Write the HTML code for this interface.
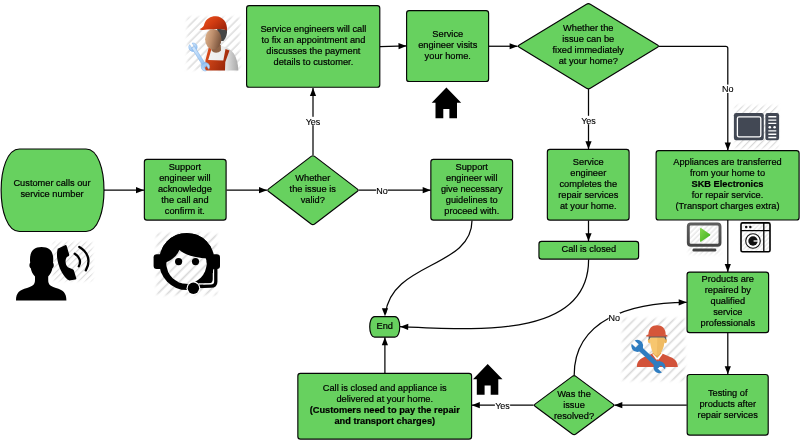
<!DOCTYPE html>
<html><head><meta charset="utf-8"><title>Service flow</title>
<style>
html,body{margin:0;padding:0;background:#fff;}
body{width:800px;height:440px;overflow:hidden;}
svg{display:block;font-family:"Liberation Sans",Arial,sans-serif;will-change:transform;}
.sh > *{fill:#67d15f;stroke:#050505;stroke-width:1.15;stroke-linejoin:round;}
.ln > path{fill:none;stroke:#050505;stroke-width:1.25;}
.ln > path.ah{fill:#000;stroke:none;}
.tx text{font-size:9.25px;text-anchor:middle;fill:#000;stroke:#000;stroke-width:0.2px;}
text.lb{font-size:9.0px;text-anchor:middle;fill:#000;stroke:#000;stroke-width:0.12px;}
</style></head><body>
<svg width="800" height="440" viewBox="0 0 800 440">
<defs>
<pattern id="hatch" width="4.8" height="4.8" patternUnits="userSpaceOnUse" patternTransform="rotate(45)">
<rect x="0" y="0" width="1.15" height="4.8" fill="#dadada"/>
</pattern>
</defs>
<rect width="800" height="440" fill="#fff"/>
<g class="ic">
<defs>
<linearGradient id="hatg" x1="0" y1="0" x2="1" y2="0.6">
<stop offset="0" stop-color="#ee5a24"/><stop offset="0.55" stop-color="#d23c12"/><stop offset="1" stop-color="#a4260a"/>
</linearGradient>
<linearGradient id="faceg" x1="0" y1="0" x2="1" y2="0.3">
<stop offset="0" stop-color="#e2b892"/><stop offset="0.5" stop-color="#bd8e6c"/><stop offset="1" stop-color="#7e5840"/>
</linearGradient>
<linearGradient id="shirtg" x1="0" y1="0" x2="1" y2="0">
<stop offset="0" stop-color="#f4f4f4"/><stop offset="0.6" stop-color="#ececec"/><stop offset="1" stop-color="#a8a8a8"/>
</linearGradient>
<linearGradient id="bibg" x1="0" y1="0" x2="1" y2="0.5">
<stop offset="0" stop-color="#e6521e"/><stop offset="1" stop-color="#9c280a"/>
</linearGradient>
<linearGradient id="wrg" x1="0" y1="0" x2="1" y2="0">
<stop offset="0" stop-color="#d4e8fc"/><stop offset="1" stop-color="#8cbcf0"/>
</linearGradient>
<linearGradient id="playg" x1="0" y1="0" x2="1" y2="1">
<stop offset="0" stop-color="#84d84e"/><stop offset="1" stop-color="#3fae1c"/>
</linearGradient>
<linearGradient id="tvg" x1="0" y1="0" x2="0" y2="1">
<stop offset="0" stop-color="#5e5e5e"/><stop offset="1" stop-color="#474747"/>
</linearGradient>
<filter id="soft" x="-20%" y="-20%" width="140%" height="140%"><feGaussianBlur stdDeviation="1.4"/></filter>
<filter id="soft2" x="-5%" y="-5%" width="110%" height="110%"><feGaussianBlur stdDeviation="0.45"/></filter>
<pattern id="h1" x="0" y="0" width="4.501" height="4.501" patternUnits="userSpaceOnUse" patternTransform="translate(52,241) rotate(45)"><rect x="1.813" y="0" width="1.080" height="4.501" fill="#d9d9d9"/></pattern>
<mask id="mh1" maskUnits="userSpaceOnUse" x="46" y="235" width="53.6" height="53"><rect filter="url(#soft)" fill="#fff" x="53" y="242" width="39.6" height="39"/></mask>
<pattern id="h2" x="0" y="0" width="6.924" height="6.924" patternUnits="userSpaceOnUse" patternTransform="translate(155.5,232) rotate(45)"><rect x="2.790" y="0" width="1.662" height="6.924" fill="#d9d9d9"/></pattern>
<mask id="mh2" maskUnits="userSpaceOnUse" x="149.5" y="226" width="74.5" height="76"><rect filter="url(#soft)" fill="#fff" x="156.5" y="233" width="60.5" height="62"/></mask>
<pattern id="h3" x="0" y="0" width="4.868" height="4.868" patternUnits="userSpaceOnUse" patternTransform="translate(734,104.5) rotate(45)"><rect x="1.961" y="0" width="1.168" height="4.868" fill="#d9d9d9"/></pattern>
<mask id="mh3" maskUnits="userSpaceOnUse" x="728" y="98.5" width="57" height="57"><rect filter="url(#soft)" fill="#fff" x="735" y="105.5" width="43" height="43"/></mask>
<pattern id="h4" x="0" y="0" width="3.678" height="3.678" patternUnits="userSpaceOnUse" patternTransform="translate(687.5,222.5) rotate(45)"><rect x="1.482" y="0" width="0.883" height="3.678" fill="#d9d9d9"/></pattern>
<mask id="mh4" maskUnits="userSpaceOnUse" x="681.5" y="216.5" width="46" height="45"><rect filter="url(#soft)" fill="#fff" x="688.5" y="223.5" width="32" height="31"/></mask>
<pattern id="h5" x="0" y="0" width="3.246" height="3.246" patternUnits="userSpaceOnUse" patternTransform="translate(740.6,222.2) rotate(45)"><rect x="1.308" y="0" width="0.779" height="3.246" fill="#d9d9d9"/></pattern>
<mask id="mh5" maskUnits="userSpaceOnUse" x="734.6" y="216.2" width="42" height="42"><rect filter="url(#soft)" fill="#fff" x="741.6" y="223.2" width="28" height="28"/></mask>
<pattern id="h6" x="0" y="0" width="5.950" height="5.950" patternUnits="userSpaceOnUse" patternTransform="translate(186,16) rotate(45)"><rect x="2.397" y="0" width="1.428" height="5.950" fill="#d9d9d9"/></pattern>
<mask id="mh6" maskUnits="userSpaceOnUse" x="180" y="10" width="67" height="67"><rect filter="url(#soft)" fill="#fff" x="187" y="17" width="53" height="53"/></mask>
<pattern id="h7" x="0" y="0" width="6.978" height="6.978" patternUnits="userSpaceOnUse" patternTransform="translate(621.5,317.3) rotate(45)"><rect x="2.811" y="0" width="1.675" height="6.978" fill="#d9d9d9"/></pattern>
<mask id="mh7" maskUnits="userSpaceOnUse" x="615.5" y="311.3" width="76.5" height="76.5"><rect filter="url(#soft)" fill="#fff" x="622.5" y="318.3" width="62.5" height="62.5"/></mask>
</defs>
<g mask="url(#mh1)"><rect filter="url(#soft2)" x="50" y="239" width="45.6" height="45" fill="url(#h1)"/></g>
<g mask="url(#mh2)"><rect filter="url(#soft2)" x="153.5" y="230" width="66.5" height="68" fill="url(#h2)"/></g>
<g mask="url(#mh3)"><rect filter="url(#soft2)" x="732" y="102.5" width="49" height="49" fill="url(#h3)"/></g>
<g mask="url(#mh4)"><rect filter="url(#soft2)" x="685.5" y="220.5" width="38" height="37" fill="url(#h4)"/></g>
<g mask="url(#mh5)"><rect filter="url(#soft2)" x="738.6" y="220.2" width="34" height="34" fill="url(#h5)"/></g>
<g mask="url(#mh6)"><rect filter="url(#soft2)" x="184" y="14" width="59" height="59" fill="url(#h6)"/></g>
<g mask="url(#mh7)"><rect filter="url(#soft2)" x="619.5" y="315.3" width="68.5" height="68.5" fill="url(#h7)"/></g>


<!-- icon: caller -->
<path fill="#000" d="M16,300.5 C16,292.5 19.5,290.3 27,288 C33,286 35,284.5 35,280 L35,276.5 C32.5,274 31.2,271 30.8,268.3 C29.2,267.5 29,264 30.2,262.8 C29,252.5 33,247 41.5,247 C50.5,247 54.3,252.5 53,262.8 C54.2,264 54,267.5 52.4,268.3 C52,271 50.6,274 48.2,276.5 L48.2,280 C48.2,284.5 50,286 56,288 C63,290.3 66.4,292.5 66.4,300.5 Z"/>
<path fill="#000" d="M57.7,248.7 L65,245.2 Q66.3,244.8 66.7,246 L69.2,254.6 Q69.4,255.6 68.4,256.2 L66.9,257.1 C65,259.6 65,264.8 67.9,267.3 L72.6,269.2 Q73.6,269.6 73.9,270.6 L76.3,278.2 Q76.5,279.2 75.4,279.5 L69.5,280.4 Q68.4,280.4 67.5,279.6 C62.5,275.4 58,266.5 57.1,257.6 C56.8,254 57,251 57.7,248.7 Z"/>
<path fill="none" stroke="#000" stroke-width="2.3" stroke-linecap="round" d="M74.7,253.8 C79.6,256.6 81.4,261.6 78.8,266.3"/>
<path fill="none" stroke="#000" stroke-width="2.3" stroke-linecap="round" d="M79.3,246.9 C87.8,251.6 91.3,261 85.8,270.3"/>

<!-- icon: headset agent -->
<rect x="153.6" y="254.2" width="9" height="14.8" rx="3" fill="#000"/>
<rect x="211" y="254.2" width="9" height="14.8" rx="3" fill="#000"/>
<ellipse cx="186.8" cy="261.5" rx="27.8" ry="28.6" fill="#000"/>
<circle cx="186.5" cy="263.6" r="20.1" fill="#fff"/>
<path fill="url(#h2)" d="M166.4,263.6 a20.1,20.1 0 0 0 40.2,0 a20.1,20.1 0 0 0 -40.2,0 Z"/>
<clipPath id="headclip"><ellipse cx="186.8" cy="261.5" rx="27.8" ry="28.6"/></clipPath><path clip-path="url(#headclip)" fill="#000" d="M164,263 C168,262 176,258 179.5,250 C184,254.5 195,258 208,258.5 L216,235 L160,232 Z"/>
<circle cx="178.6" cy="261.6" r="3.6" fill="#000"/>
<circle cx="195.5" cy="261.6" r="3.6" fill="#000"/>
<path fill="none" stroke="#000" stroke-width="4" d="M211,268 L211,279 Q211,281.6 208.4,281.6 L199,281.6"/><circle cx="207.8" cy="278.6" r="2.2" fill="#000"/>
<path fill="none" stroke="#fff" stroke-width="1.3" d="M213.4,273 L213.4,280.3 Q213.4,283.8 210,283.8 L199,284"/>
<path fill="none" stroke="#000" stroke-width="3.3" d="M215.8,266 L215.8,281.5 Q215.8,286.2 211,286.2 L197,286.6"/>
<circle cx="193.4" cy="288.2" r="6.9" fill="#fff"/>
<circle cx="193.4" cy="288.2" r="5.7" fill="#000"/>

<!-- houses -->
<path fill="#000" d="M446.4,87.6 L461.2,102.8 L457,102.8 L457,118.3 L449.4,118.3 L449.4,109.1 L443.3,109.1 L443.3,118.3 L435.5,118.3 L435.5,102.8 L431.7,102.8 Z"/>
<path fill="#000" d="M487.7,364.1 L502.5,379.3 L498.3,379.3 L498.3,394.8 L490.7,394.8 L490.7,385.6 L484.6,385.6 L484.6,394.8 L476.8,394.8 L476.8,379.3 L473,379.3 Z"/>

<!-- microwave -->
<rect x="733.9" y="113" width="29.9" height="27.3" rx="2.2" fill="#424854"/>
<rect x="765.4" y="113" width="13.7" height="27.3" rx="2.2" fill="#424854"/>
<rect x="737.4" y="116.9" width="23.4" height="20" rx="1.6" fill="none" stroke="#fff" stroke-width="1.3"/>
<g stroke="#fff" stroke-width="1.4">
<path d="M768.3,116.8 H776.3 M768.3,120.1 H776.3 M768.3,123.4 H776.3 M768.3,130.9 H776.3 M768.3,134.2 H776.3 M768.3,137.5 H776.3"/>
</g>
<circle cx="769.8" cy="127.2" r="1.3" fill="#fff"/>
<circle cx="774.6" cy="127.2" r="1.3" fill="#fff"/>

<!-- tv -->
<rect x="688.3" y="224" width="31.7" height="21.2" rx="2.5" fill="none" stroke="url(#tvg)" stroke-width="2.9"/>
<rect x="692.5" y="248.6" width="23.8" height="3" rx="1.4" fill="#444"/>
<path fill="url(#playg)" d="M700,228.6 Q700,227.6 701,228.1 L710,234.3 Q710.8,234.9 710,235.5 L701,241.7 Q700,242.2 700,241.2 Z"/>

<!-- washer -->
<rect x="741" y="222.9" width="29" height="28.8" rx="1.5" fill="none" stroke="#000" stroke-width="1.6"/>
<path d="M741,230.6 H770 M763.8,223 V251.6" stroke="#000" stroke-width="1.3" fill="none"/>
<circle cx="746.2" cy="227" r="1.25" fill="#111"/>
<circle cx="750.3" cy="227" r="1.25" fill="#111"/>
<circle cx="753" cy="241" r="7.3" fill="#fff" stroke="#111" stroke-width="1.1"/>
<circle cx="753" cy="241" r="4.7" fill="#111"/>
<path d="M753.6,241 H758 " stroke="#fff" stroke-width="1.3"/>
<path d="M755.5,239 A3,3 0 1 0 755.5,243" stroke="#fff" stroke-width="0" fill="none"/>

<!-- engineer 3D -->
<path fill="url(#shirtg)" d="M202.3,70.6 C202.5,58 206,49 213,46.5 L222,46 C232,48 238,56 238.3,70.6 Z"/>
<path fill="url(#bibg)" d="M209,46.5 L212,47.5 L208.2,60 L223.3,60.5 L225.5,49 L229.5,50.5 L225.3,62 L225,70.6 L205,70.6 L205.5,60 Z"/>
<path fill="#8e6448" d="M211.5,45 L220.8,45 L221,50.5 C218,53.5 214,53.5 211.6,50.5 Z"/>
<path fill="#454545" d="M217,28.5 L227,30 C227.4,33.5 226.2,38 223.4,41 L219,41 Z"/>
<ellipse cx="213.3" cy="39.2" rx="8.2" ry="10.3" fill="url(#faceg)"/>
<path fill="url(#hatg)" d="M199.5,29.2 C203,27.5 204,26 204.3,24 C206,18.5 211,16 216,16.2 C222.5,16.5 227.5,22 227,30.5 C222,28.5 214,28.6 207,29.6 C204,30 201,30.2 199.5,29.2 Z"/>
<g fill="url(#wrg)" stroke="#7fb2ea" stroke-width="0.5"><g transform="translate(193.0,47.2) rotate(57.68)"><path d="M-3.92,-1.50 A4.2,4.2 0 1 1 -3.92,1.50 L0.5,1.50 L0.5,-1.50 Z"/><rect x="0" y="-1.55" width="23.19" height="3.1"/></g><g transform="translate(205.4,66.8) rotate(237.68)"><path d="M-3.92,-1.50 A4.2,4.2 0 1 1 -3.92,1.50 L0.5,1.50 L0.5,-1.50 Z"/></g></g>

<!-- engineer flat -->
<path fill="#d2533a" d="M636.9,367 C637,361 640,358.5 646.5,356.3 L653,353.2 L660.5,352.8 L668,356 C674.5,358.3 677.6,361 677.8,367 Z"/>
<path fill="#fff" d="M652.4,354.3 L657.4,361.2 L663,353.4 L660.5,351.3 L655,351.8 Z"/>
<path fill="#d2533a" d="M656.4,359.6 L658.5,359.6 L659.2,363.5 L655.8,363.5 Z"/>
<path fill="#e6a64c" d="M652.6,349 L661.4,349 L661.2,353.4 L657.2,358 L652.8,353.8 Z"/>
<ellipse cx="649.4" cy="340.8" rx="1.6" ry="2.4" fill="#f3bd62"/>
<ellipse cx="665.4" cy="340.8" rx="1.6" ry="2.4" fill="#e9b25a"/>
<path fill="#f7c66f" d="M650.4,336.1 L664.4,336.1 C664.9,340 664.6,345 662.7,349 C661.1,352.5 658.8,355.6 656.8,355.6 C654.7,355.6 652.6,352.5 651.5,349 C650,345 649.9,340 650.4,336.1 Z"/>
<path fill="#e9b259" d="M657.4,336.1 L664.4,336.1 C664.9,340 664.6,345 662.7,349 C661.1,352.5 658.8,355.6 656.8,355.6 Z" opacity="0.55"/>
<path fill="#5a5f66" d="M648.6,335.5 L666.2,335.5 L666.2,340.2 L664.2,337.4 L650.6,337.4 L648.6,340.2 Z"/>
<path fill="#d5563a" d="M648.4,334.8 C648.4,328.2 652,325.2 657,325.2 C662,325.2 665.7,328.2 665.7,334.8 Z"/>
<path fill="#d5563a" d="M646.2,335.4 C650.5,332.8 663.5,332.8 667.4,335.4 L667.4,336.4 L646.2,336.4 Z"/>
<g fill="#2f7dc1"><g transform="translate(637.2,345.9) rotate(43.68)"><path d="M-5.58,-2.20 A6.0,6.0 0 1 1 -5.58,2.20 L0.6,2.20 L0.6,-2.20 Z"/><rect x="0" y="-2.40" width="30.70" height="4.8"/></g><g transform="translate(659.4,367.1) rotate(223.68)"><path d="M-5.58,-2.20 A6.0,6.0 0 1 1 -5.58,2.20 L0.6,2.20 L0.6,-2.20 Z"/></g></g>

</g>
<g class="ln">
<path d="M104,190.2 L144,190.2"/>
<path d="M226.5,190.2 L267,190.2"/>
<path d="M313.0,155 L313.0,88"/>
<path d="M358.5,190.2 L430.7,190.2"/>
<path d="M380,46.7 L406.5,45.9"/>
<path d="M488.75,46.25 L517.6,46.25"/>
<path d="M588.5,89 L588.5,149.2"/>
<path d="M659,46.25 L725.7,46.25 Q727.8,46.25 727.8,48.3 L727.8,150"/>
<path d="M588.5,220.5 L588.5,241.3"/>
<path d="M588.6,259.5 C588.6,338 480,330 400,326.6"/>
<path d="M472,220.5 C472,268 391,262 385.4,314"/>
<path d="M727.8,220 L727.8,271.9"/>
<path d="M727.8,333 L727.8,374.3"/>
<path d="M686.8,405.2 L614.3,405.2"/>
<path d="M533.75,405.2 L471.8,405.2"/>
<path d="M574.2,375 C574.2,320 630,302.3 686.7,302.3"/>
<path d="M384.9,373 L384.9,337.3"/>
<path class="ah" d="M144.00,190.20 L136.00,193.30 L136.00,187.10 Z"/>
<path class="ah" d="M267.00,190.20 L259.00,193.30 L259.00,187.10 Z"/>
<path class="ah" d="M313.00,88.00 L316.10,96.00 L309.90,96.00 Z"/>
<path class="ah" d="M430.70,190.20 L422.70,193.30 L422.70,187.10 Z"/>
<path class="ah" d="M406.50,45.90 L398.60,49.24 L398.41,43.04 Z"/>
<path class="ah" d="M517.60,46.25 L509.60,49.35 L509.60,43.15 Z"/>
<path class="ah" d="M588.50,149.20 L585.40,141.20 L591.60,141.20 Z"/>
<path class="ah" d="M727.80,150.40 L724.70,142.40 L730.90,142.40 Z"/>
<path class="ah" d="M588.50,241.30 L585.40,233.30 L591.60,233.30 Z"/>
<path class="ah" d="M400.20,326.70 L408.29,323.84 L408.11,330.04 Z"/>
<path class="ah" d="M385.00,316.30 L381.90,308.30 L388.10,308.30 Z"/>
<path class="ah" d="M727.80,271.90 L724.70,263.90 L730.90,263.90 Z"/>
<path class="ah" d="M727.80,374.30 L724.70,366.30 L730.90,366.30 Z"/>
<path class="ah" d="M614.30,405.20 L622.30,402.10 L622.30,408.30 Z"/>
<path class="ah" d="M471.80,405.20 L479.80,402.10 L479.80,408.30 Z"/>
<path class="ah" d="M686.70,302.30 L678.70,305.40 L678.70,299.20 Z"/>
<path class="ah" d="M384.90,337.30 L388.00,345.30 L381.80,345.30 Z"/>
</g>
<g class="lbs">
<rect x="305.40" y="116.80" width="15.2" height="8.4" fill="#fff" stroke="none"/><text class="lb" x="313" y="124.64">Yes</text>
<rect x="376.20" y="186.20" width="11.4" height="8.4" fill="#fff" stroke="none"/><text class="lb" x="381.9" y="194.04">No</text>
<rect x="580.90" y="115.80" width="15.2" height="8.4" fill="#fff" stroke="none"/><text class="lb" x="588.5" y="123.64">Yes</text>
<rect x="722.10" y="84.60" width="11.4" height="8.4" fill="#fff" stroke="none"/><text class="lb" x="727.8" y="92.44">No</text>
<rect x="494.90" y="401.30" width="15.2" height="8.4" fill="#fff" stroke="none"/><text class="lb" x="502.5" y="409.14">Yes</text>
<rect x="608.60" y="312.80" width="11.4" height="8.4" fill="#fff" stroke="none"/><text class="lb" x="614.3" y="320.64">No</text>
</g>
<g class="sh">
<path d="M19.5,149 L86,149 C110,149 110,231.5 86,231.5 L19.5,231.5 C-5,231.5 -5,149 19.5,149 Z"/>
<rect x="144.35" y="159.35" width="81.75" height="60.75" rx="2.6" ry="2.6"/>
<path d="M268.65,191.54 Q266.90,190.20 268.65,188.86 L311.15,156.39 Q312.90,155.05 314.65,156.39 L357.15,188.86 Q358.90,190.20 357.15,191.54 L314.65,224.01 Q312.90,225.35 311.15,224.01 Z"/>
<rect x="430.85" y="159.35" width="81.75" height="60.75" rx="2.6" ry="2.6"/>
<rect x="246.6" y="5.6" width="133.20" height="81.70" rx="2.6" ry="2.6"/>
<rect x="406.6" y="10.549999999999999" width="82.00" height="70.95" rx="2.6" ry="2.6"/>
<path d="M519.28,47.34 Q517.40,46.20 519.28,45.06 L586.52,4.19 Q588.40,3.05 590.28,4.19 L657.52,45.06 Q659.40,46.20 657.52,47.34 L590.28,88.21 Q588.40,89.35 586.52,88.21 Z"/>
<rect x="547.35" y="149.35" width="81.75" height="70.75" rx="2.6" ry="2.6"/>
<rect x="656.1" y="150.54999999999998" width="143.00" height="69.45" rx="2.6" ry="2.6"/>
<rect x="538.95" y="241.35" width="99.65" height="17.75" rx="2.6" ry="2.6"/>
<path d="M374.6,316.6 L394.9,316.6 C401.4,316.6 401.4,337.1 394.9,337.1 L374.6,337.1 C368.1,337.1 368.1,316.6 374.6,316.6 Z"/>
<rect x="687.0500000000001" y="272.05" width="81.55" height="60.55" rx="2.6" ry="2.6"/>
<rect x="687.15" y="374.45000000000005" width="81.05" height="60.65" rx="2.6" ry="2.6"/>
<path d="M535.36,406.51 Q533.60,405.20 535.36,403.89 L572.34,376.36 Q574.10,375.05 575.86,376.36 L612.84,403.89 Q614.60,405.20 612.84,406.51 L575.86,434.04 Q574.10,435.35 572.34,434.04 Z"/>
<rect x="297.85" y="373.35" width="173.75" height="65.75" rx="2.6" ry="2.6"/>
</g>
<g class="tx">
<text x="52" y="186.48">Customer calls our</text>
<text x="52" y="197.48">service number</text>
<text x="184.9" y="170.28">Support</text>
<text x="184.9" y="181.28">engineer will</text>
<text x="184.9" y="192.28">acknowledge</text>
<text x="184.9" y="203.28">the call and</text>
<text x="184.9" y="214.28">confirm it.</text>
<text x="312.75" y="181.28">Whether</text>
<text x="312.75" y="192.28">the issue is</text>
<text x="312.75" y="203.28">valid?</text>
<text x="471.75" y="170.28">Support</text>
<text x="471.75" y="181.28">engineer will</text>
<text x="471.75" y="192.28">give necessary</text>
<text x="471.75" y="203.28">guidelines to</text>
<text x="471.75" y="214.28">proceed with.</text>
<text x="313.4" y="32.28">Service engineers will call</text>
<text x="313.4" y="43.28">to fix an appointment and</text>
<text x="313.4" y="54.28">discusses the payment</text>
<text x="313.4" y="65.28">details to customer.</text>
<text x="447.75" y="37.28">Service</text>
<text x="447.75" y="48.28">engineer visits</text>
<text x="447.75" y="59.28">your home.</text>
<text x="588.25" y="31.48">Whether the</text>
<text x="588.25" y="42.48">issue can be</text>
<text x="588.25" y="53.48">fixed immediately</text>
<text x="588.25" y="64.48">at your home?</text>
<text x="588.25" y="164.78">Service</text>
<text x="588.25" y="175.78">engineer</text>
<text x="588.25" y="186.78">completes the</text>
<text x="588.25" y="197.78">repair services</text>
<text x="588.25" y="208.78">at your home.</text>
<text x="727.5" y="164.78">Appliances are transferred</text>
<text x="727.5" y="175.78">from your home to</text>
<text x="727.5" y="186.78" font-weight="bold">SKB Electronics</text>
<text x="727.5" y="197.78">for repair service.</text>
<text x="727.5" y="208.78">(Transport charges extra)</text>
<text x="588.8" y="251.88">Call is closed</text>
<text x="384.75" y="329.48">End</text>
<text x="727.8" y="282.18">Products are</text>
<text x="727.8" y="293.18">repaired by</text>
<text x="727.8" y="304.18">qualified</text>
<text x="727.8" y="315.18">service</text>
<text x="727.8" y="326.18">professionals</text>
<text x="727.7" y="396.28">Testing of</text>
<text x="727.7" y="407.28">products after</text>
<text x="727.7" y="418.28">repair services</text>
<text x="574" y="396.78">Was the</text>
<text x="574" y="407.78">issue</text>
<text x="574" y="418.78">resolved?</text>
<text x="384.75" y="391.38">Call is closed and appliance is</text>
<text x="384.75" y="402.38">delivered at your home.</text>
<text x="384.75" y="413.38" font-weight="bold">(Customers need to pay the repair</text>
<text x="384.75" y="424.38" font-weight="bold">and transport charges)</text>
</g>
</svg>
</body></html>
